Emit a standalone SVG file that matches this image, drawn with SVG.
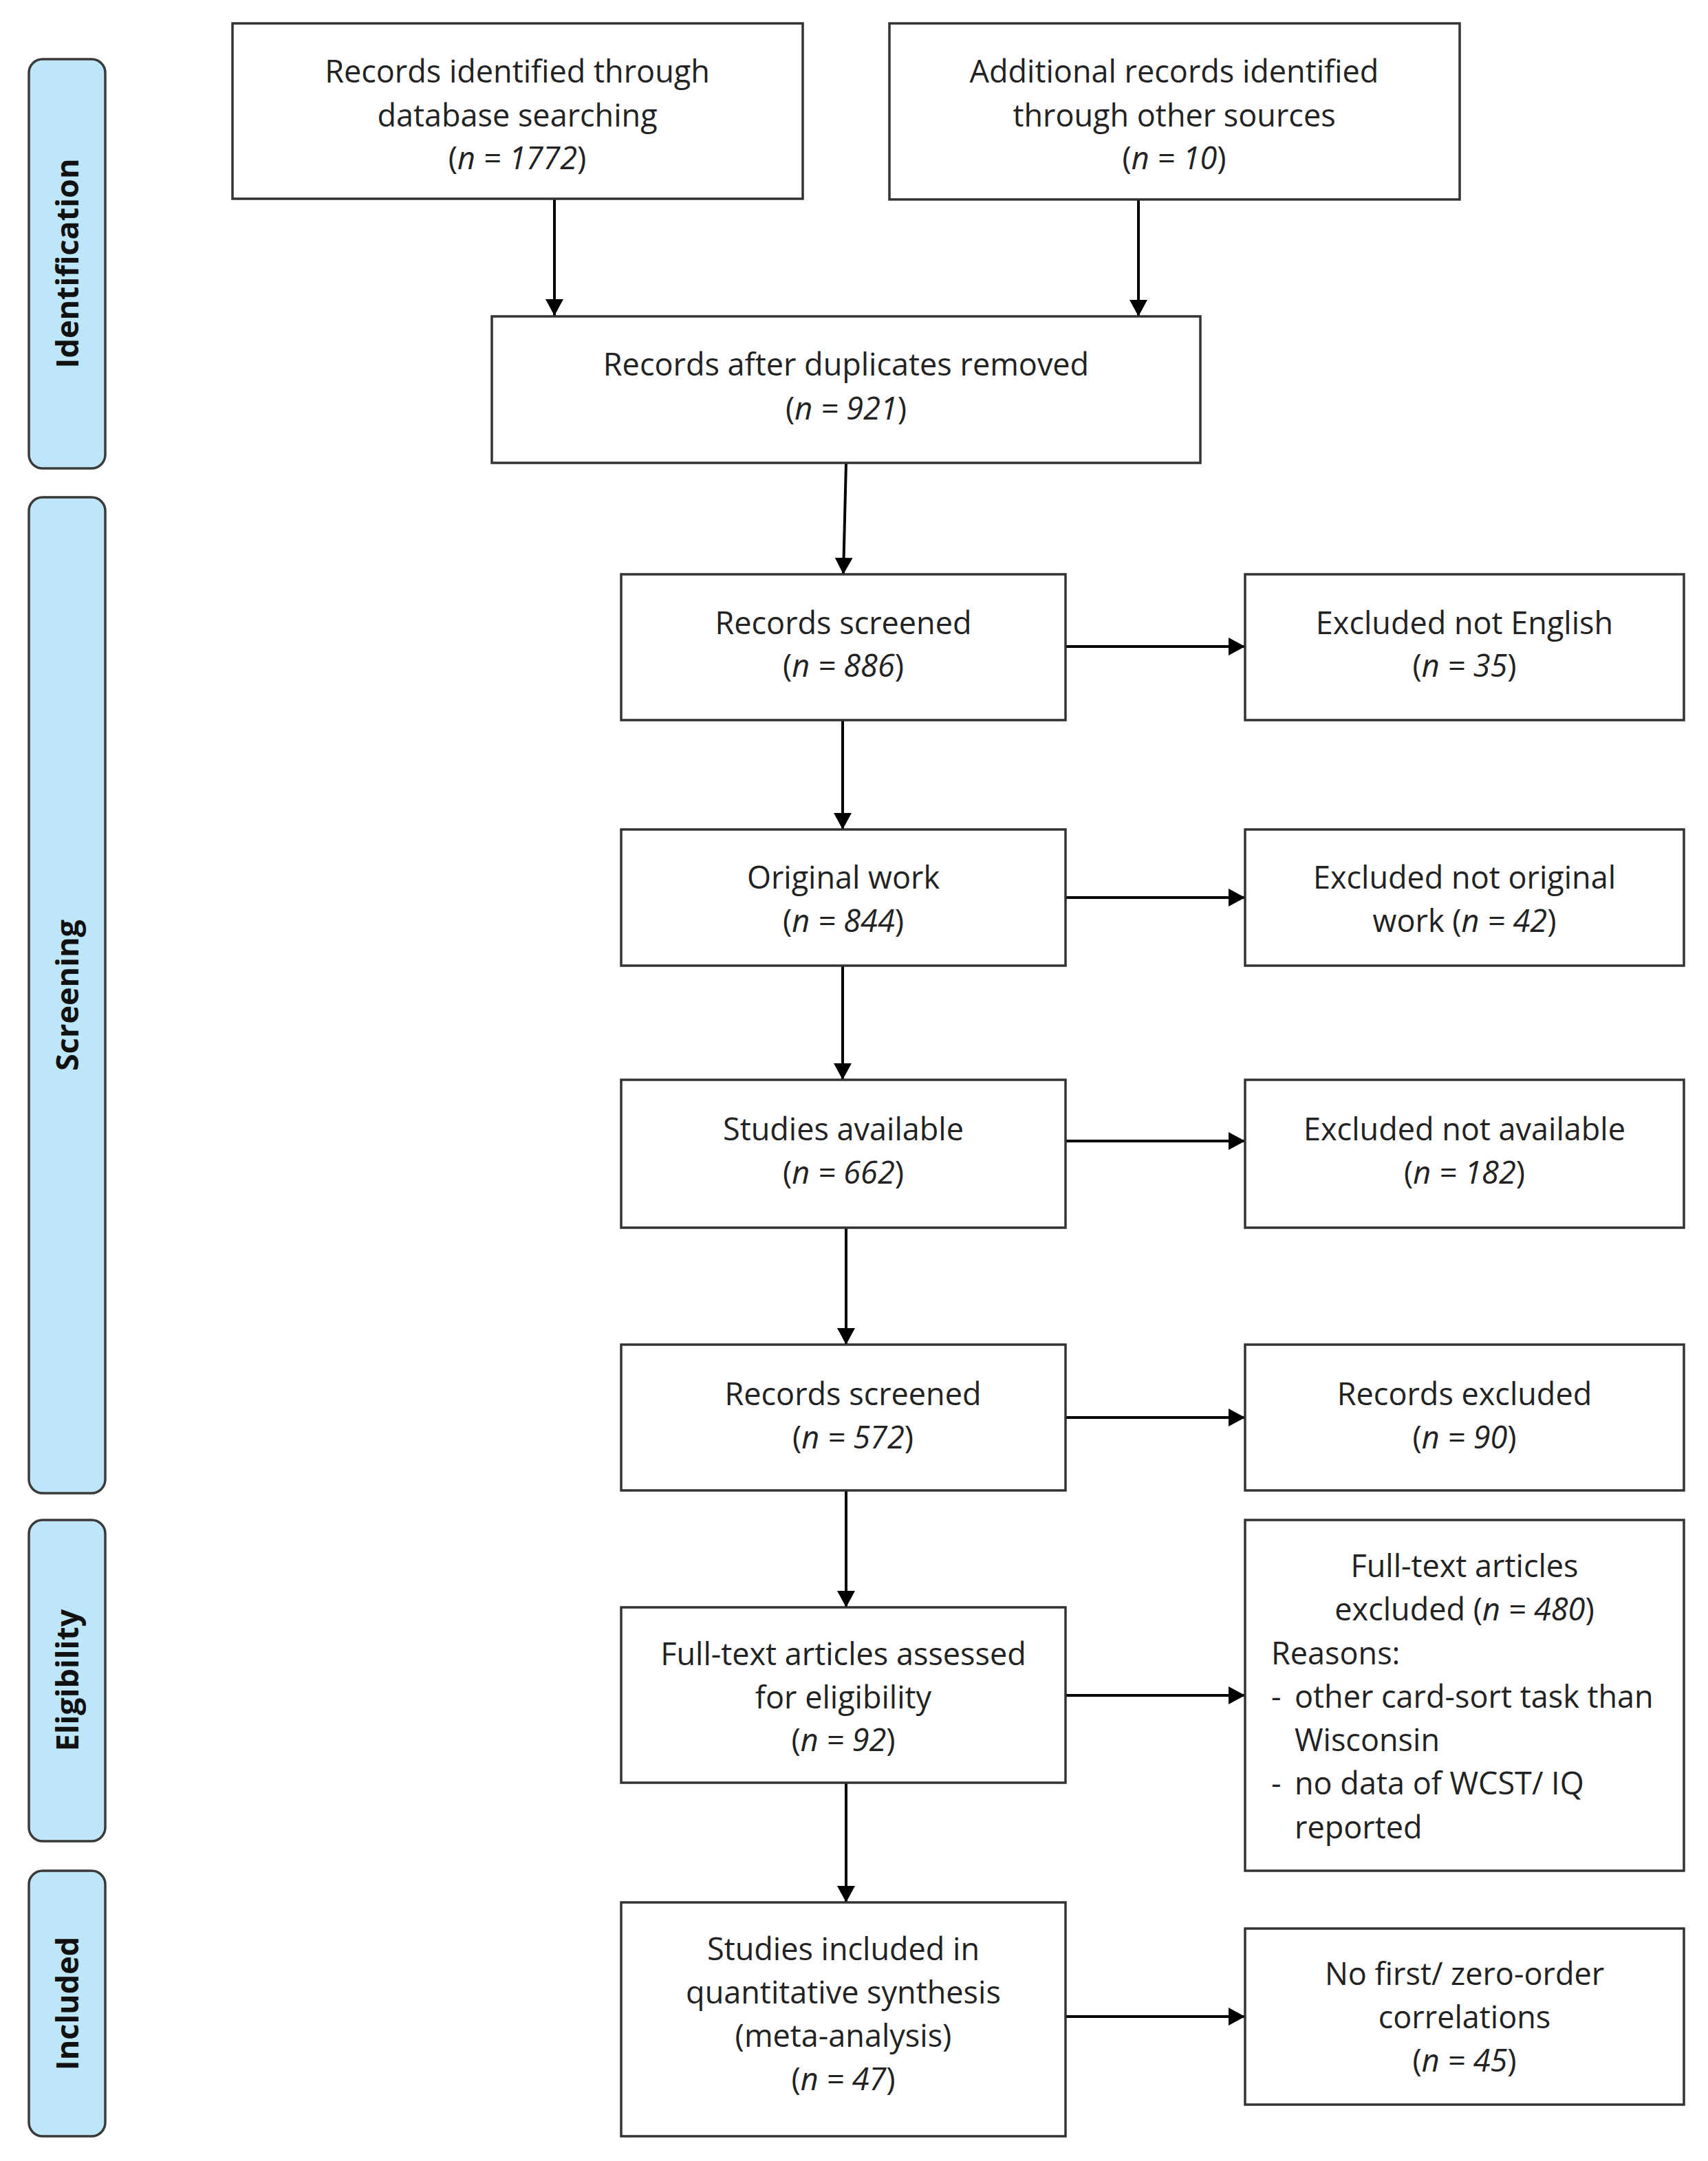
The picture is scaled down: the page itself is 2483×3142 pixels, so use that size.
<svg xmlns="http://www.w3.org/2000/svg" width="2483" height="3142" viewBox="0 0 2483 3142">
<defs>
<style>
.box{fill:#fff;stroke:#333;stroke-width:3.5}
.side{fill:#bde6f8;stroke:#3a3a3a;stroke-width:3.5}
.t{font-family:"Open Sans","Noto Sans","DejaVu Sans",sans-serif;font-size:45px;fill:#222;text-anchor:middle}
.tl{font-family:"Open Sans","Noto Sans","DejaVu Sans",sans-serif;font-size:45px;fill:#222;text-anchor:start}
.st{font-family:"Open Sans","Noto Sans","DejaVu Sans",sans-serif;font-size:45px;font-weight:bold;fill:#111;text-anchor:middle}
.i{font-style:italic}
.c{fill:none;stroke:#000;stroke-width:4}
</style>
<marker id="ah" markerUnits="userSpaceOnUse" markerWidth="24" markerHeight="26" refX="24" refY="13" orient="auto">
<path d="M0,0 L24,13 L0,26 z" fill="#000"/>
</marker>
</defs>
<rect width="2483" height="3142" fill="#fff"/>

<g id="sidebars">
<g id="side-identification">
<rect class="side" x="42" y="86" width="111" height="595" rx="20"/>
<text class="st" transform="translate(114,383) rotate(-90)">Identification</text>
</g>
<g id="side-screening">
<rect class="side" x="42" y="723" width="111" height="1448" rx="20"/>
<text class="st" transform="translate(114,1447) rotate(-90)">Screening</text>
</g>
<g id="side-eligibility">
<rect class="side" x="42" y="2210" width="111" height="467" rx="20"/>
<text class="st" transform="translate(114,2443) rotate(-90)">Eligibility</text>
</g>
<g id="side-included">
<rect class="side" x="42" y="2720" width="111" height="386" rx="20"/>
<text class="st" transform="translate(114,2913) rotate(-90)">Included</text>
</g>
</g>

<g id="connectors">
<line class="c" x1="806" y1="289" x2="806" y2="459" marker-end="url(#ah)"/>
<line class="c" x1="1655" y1="290" x2="1655" y2="460" marker-end="url(#ah)"/>
<line class="c" x1="1230" y1="673" x2="1226" y2="835" marker-end="url(#ah)"/>
<line class="c" x1="1225" y1="1047" x2="1225" y2="1206" marker-end="url(#ah)"/>
<line class="c" x1="1225" y1="1404" x2="1225" y2="1570" marker-end="url(#ah)"/>
<line class="c" x1="1230" y1="1785" x2="1230" y2="1955" marker-end="url(#ah)"/>
<line class="c" x1="1230" y1="2167" x2="1230" y2="2337" marker-end="url(#ah)"/>
<line class="c" x1="1230" y1="2592" x2="1230" y2="2766" marker-end="url(#ah)"/>
<line class="c" x1="1549" y1="940" x2="1810" y2="940" marker-end="url(#ah)"/>
<line class="c" x1="1549" y1="1305" x2="1810" y2="1305" marker-end="url(#ah)"/>
<line class="c" x1="1549" y1="1659" x2="1810" y2="1659" marker-end="url(#ah)"/>
<line class="c" x1="1549" y1="2061" x2="1810" y2="2061" marker-end="url(#ah)"/>
<line class="c" x1="1549" y1="2465" x2="1810" y2="2465" marker-end="url(#ah)"/>
<line class="c" x1="1540" y1="2932" x2="1810" y2="2932" marker-end="url(#ah)"/>
</g>

<g id="n-db">
<rect class="box" x="338" y="34" width="829" height="255"/>
<text class="t" x="752" y="120">Records identified through</text>
<text class="t" x="752" y="184">database searching</text>
<text class="t" x="752" y="246">(<tspan class="i">n = 1772</tspan>)</text>
</g>
<g id="n-other">
<rect class="box" x="1293" y="34" width="829" height="256"/>
<text class="t" x="1707" y="120">Additional records identified</text>
<text class="t" x="1707" y="184">through other sources</text>
<text class="t" x="1707" y="246">(<tspan class="i">n = 10</tspan>)</text>
</g>
<g id="n-dup">
<rect class="box" x="715" y="460" width="1030" height="213"/>
<text class="t" x="1230" y="546">Records after duplicates removed</text>
<text class="t" x="1230" y="610">(<tspan class="i">n = 921</tspan>)</text>
</g>
<g id="n-screened">
<rect class="box" x="903" y="835" width="646" height="212"/>
<text class="t" x="1226" y="922">Records screened</text>
<text class="t" x="1226" y="984">(<tspan class="i">n = 886</tspan>)</text>
</g>
<g id="n-excl-english">
<rect class="box" x="1810" y="835" width="638" height="212"/>
<text class="t" x="2129" y="922">Excluded not English</text>
<text class="t" x="2129" y="984">(<tspan class="i">n = 35</tspan>)</text>
</g>
<g id="n-original">
<rect class="box" x="903" y="1206" width="646" height="198"/>
<text class="t" x="1226" y="1292">Original work</text>
<text class="t" x="1226" y="1355">(<tspan class="i">n = 844</tspan>)</text>
</g>
<g id="n-excl-original">
<rect class="box" x="1810" y="1206" width="638" height="198"/>
<text class="t" x="2129" y="1292">Excluded not original</text>
<text class="t" x="2129" y="1355">work (<tspan class="i">n = 42</tspan>)</text>
</g>
<g id="n-available">
<rect class="box" x="903" y="1570" width="646" height="215"/>
<text class="t" x="1226" y="1658">Studies available</text>
<text class="t" x="1226" y="1721">(<tspan class="i">n = 662</tspan>)</text>
</g>
<g id="n-excl-available">
<rect class="box" x="1810" y="1570" width="638" height="215"/>
<text class="t" x="2129" y="1658">Excluded not available</text>
<text class="t" x="2129" y="1721">(<tspan class="i">n = 182</tspan>)</text>
</g>
<g id="n-screened2">
<rect class="box" x="903" y="1955" width="646" height="212"/>
<text class="t" x="1240" y="2043">Records screened</text>
<text class="t" x="1240" y="2106">(<tspan class="i">n = 572</tspan>)</text>
</g>
<g id="n-excluded">
<rect class="box" x="1810" y="1955" width="638" height="212"/>
<text class="t" x="2129" y="2043">Records excluded</text>
<text class="t" x="2129" y="2106">(<tspan class="i">n = 90</tspan>)</text>
</g>
<g id="n-fulltext">
<rect class="box" x="903" y="2337" width="646" height="255"/>
<text class="t" x="1226" y="2421">Full-text articles assessed</text>
<text class="t" x="1226" y="2484">for eligibility</text>
<text class="t" x="1226" y="2546">(<tspan class="i">n = 92</tspan>)</text>
</g>
<g id="n-fulltext-excl">
<rect class="box" x="1810" y="2210" width="638" height="510"/>
<text class="t" x="2129" y="2293">Full-text articles</text>
<text class="t" x="2129" y="2356">excluded (<tspan class="i">n = 480</tspan>)</text>
<text class="tl" x="1848" y="2420">Reasons:</text>
<text class="tl" x="1848" y="2483">-</text>
<text class="tl" x="1882" y="2483">other card-sort task than</text>
<text class="tl" x="1882" y="2546">Wisconsin</text>
<text class="tl" x="1848" y="2609">-</text>
<text class="tl" x="1882" y="2609">no data of WCST/ IQ</text>
<text class="tl" x="1882" y="2673">reported</text>
</g>
<g id="n-included">
<rect class="box" x="903" y="2766" width="646" height="340"/>
<text class="t" x="1226" y="2850">Studies included in</text>
<text class="t" x="1226" y="2913">quantitative synthesis</text>
<text class="t" x="1226" y="2976">(meta-analysis)</text>
<text class="t" x="1226" y="3039">(<tspan class="i">n = 47</tspan>)</text>
</g>
<g id="n-nofirst">
<rect class="box" x="1810" y="2804" width="638" height="256"/>
<text class="t" x="2129" y="2886">No first/ zero-order</text>
<text class="t" x="2129" y="2949">correlations</text>
<text class="t" x="2129" y="3012">(<tspan class="i">n = 45</tspan>)</text>
</g>
</svg>
